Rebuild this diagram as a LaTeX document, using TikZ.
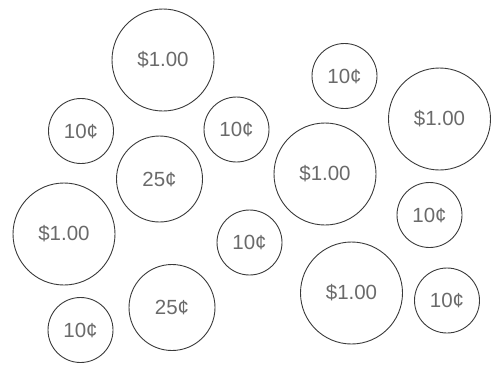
\documentclass[tikz,border=0pt]{standalone}
\usepackage{fontspec}
\setmainfont{Liberation Sans}
\usetikzlibrary{positioning}
\definecolor{coinline}{HTML}{3A3A3A}
\definecolor{cointext}{HTML}{6A6A6A}

\begin{document}
\begin{tikzpicture}[x=1pt, y=-1pt,
  coin/.style={circle, draw=coinline, line width=0.9pt, inner sep=0pt, text=cointext, font=\fontsize{20.5}{22}\selectfont},
  dollar/.style={coin, minimum size=102pt},
  quarter/.style={coin, minimum size=86pt},
  dime/.style={coin, minimum size=65pt}]
\useasboundingbox (0,0) rectangle (492,364);
% dollar coins
\node[dollar] (dollarA) at (163,60) {\$1.00};
\node[dollar] (dollarB) at (439.5,119) {\$1.00};
\node[dollar] (dollarC) at (325,174) {\$1.00};
\node[dollar] (dollarD) at (64,234) {\$1.00};
\node[dollar] (dollarE) at (351.5,293) {\$1.00};
% quarters
\node[quarter] (quarterA) at (159.5,179) {25¢};
\node[quarter] (quarterB) at (172,307.5) {25¢};
% dimes
\node[dime] (dimeA) at (81,131) {10¢};
\node[dime] (dimeB) at (236.5,129.5) {10¢};
\node[dime] (dimeC) at (344.5,76) {10¢};
\node[dime] (dimeD) at (249.5,242.5) {10¢};
\node[dime] (dimeE) at (429.5,215) {10¢};
\node[dime] (dimeF) at (447,300.5) {10¢};
\node[dime] (dimeG) at (80.5,330) {10¢};
\end{tikzpicture}
\end{document}
